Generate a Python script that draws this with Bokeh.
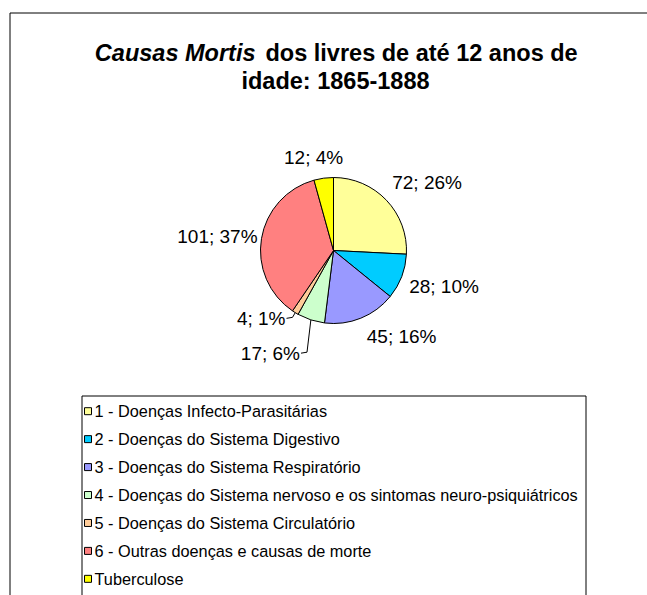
import math
from bokeh.plotting import figure
from bokeh.models import ColumnDataSource, Range1d
from bokeh.core.properties import value
from bokeh.embed import file_html
from bokeh.resources import INLINE

# ---- data ----
categories = [
    "1 - Doenças Infecto-Parasitárias",
    "2 - Doenças do Sistema Digestivo",
    "3 - Doenças do Sistema Respiratório",
    "4 - Doenças do Sistema nervoso e os sintomas neuro-psiquiátricos",
    "5 - Doenças do Sistema Circulatório",
    "6 - Outras doenças e causas de morte",
    "Tuberculose",
]
counts = [72, 28, 45, 17, 4, 101, 12]
percents = [26, 10, 16, 6, 1, 37, 4]
colors = ["#FFFF99", "#00CCFF", "#9999FF", "#CCFFCC", "#FFCC99", "#FF8080", "#FFFF00"]
title_italic = "Causas Mortis"
title_rest = "dos livres de até 12 anos de"
title_line2 = "idade: 1865-1888"

# ---- layout ----
W, H = 647, 595
FONT = "Liberation Sans"
cx, cy, r = 333, 345, 73          # pie centre / radius in canvas units
leader = [False, False, False, True, True, False, False]
label_r = [81, 81, 81, 108, 82, 81, 81]
label_dx = [0, 0, 3, 0, -5, 4, -9]
label_dy = [2, 3, 0, 0, 2, 1, 2]

p = figure(width=W, height=H, output_backend="svg", toolbar_location=None,
           x_range=Range1d(0, W), y_range=Range1d(0, H), min_border=0,
           title=None)
p.axis.visible = False
p.grid.visible = False
p.outline_line_color = None
p.background_fill_color = "white"
p.border_fill_color = "white"

# outer chart border (only left and top edges fall inside the canvas)
p.quad(left=[9.5], right=[W + 30], top=[582.5], bottom=[-30],
       fill_color=None, line_color="black", line_width=1)

# title
p.text(x=[255], y=[543], text=[title_italic], text_font=value(FONT),
       text_font_size="23.5px", text_font_style="bold italic", text_align="right",
       text_baseline="alphabetic", text_color="black")
p.text(x=[265], y=[543], text=[title_rest], text_font=value(FONT),
       text_font_size="23.5px", text_font_style="bold", text_align="left",
       text_baseline="alphabetic", text_color="black")
p.text(x=[335], y=[515], text=[title_line2], text_font=value(FONT),
       text_font_size="23.5px", text_font_style="bold", text_align="center",
       text_baseline="alphabetic", text_color="black")

# pie wedges
total = sum(counts)
starts, ends, mids = [], [], []
acc = 0
for v in counts:
    a0 = acc / total
    acc += v
    a1 = acc / total
    starts.append(math.pi / 2 - 2 * math.pi * a0)
    ends.append(math.pi / 2 - 2 * math.pi * a1)
    mids.append(2 * math.pi * (a0 + a1) / 2)   # clockwise from 12 o'clock

src = ColumnDataSource(dict(x=[cx] * len(counts), y=[cy] * len(counts),
                            start=starts, end=ends, color=colors, cat=categories))
p.wedge(x="x", y="y", radius=r, start_angle="start", end_angle="end",
        direction="clock", fill_color="color", line_color="black", line_width=1,
        source=src)

# data labels
lx, ly, lt, la, lb = [], [], [], [], []
for i, (v, pc, th) in enumerate(zip(counts, percents, mids)):
    s, c = math.sin(th), math.cos(th)
    R = label_r[i]
    ax, ay = cx + R * s + label_dx[i], cy + R * c + label_dy[i]
    if leader[i]:
        align, base = "right", "middle"
        ex, ey = cx + r * s, cy + r * c
        p.line(x=[ax + 1, ax + 7, ex], y=[ay, ay + 1, ey], line_color="black", line_width=1)
    else:
        align = "left" if s > 0.3 else ("right" if s < -0.3 else "center")
        base = "bottom" if c > 0.3 else ("top" if c < -0.3 else "middle")
    lx.append(ax); ly.append(ay); lt.append(f"{v}; {pc}%"); la.append(align); lb.append(base)

p.text(x="x", y="y", text="t", text_align="a", text_baseline="b",
       source=ColumnDataSource(dict(x=lx, y=ly, t=lt, a=la, b=lb)),
       text_font=value(FONT), text_font_size="19px", text_color="black")

# legend (box, swatches, labels)
p.quad(left=[81.5], right=[585.5], top=[199.5], bottom=[-30],
       fill_color=None, line_color="black", line_width=1)
row0, step = H - 410.7, 27.94
ry = [row0 - step * i for i in range(len(categories))]
p.scatter(x=[87.5] * len(categories), y=ry, marker="square", size=7,
          fill_color=colors, line_color="black", line_width=1)
p.text(x=[94] * len(categories), y=ry, text=categories, text_font=value(FONT),
       text_font_size="16.3px", text_align="left", text_baseline="middle",
       text_color="black")

open("out.html", "w").write(file_html(p, INLINE))
